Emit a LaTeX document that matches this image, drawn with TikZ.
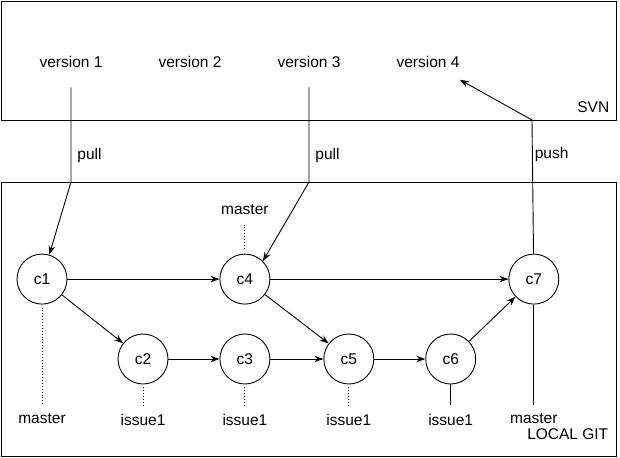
\documentclass[tikz,border=0pt]{standalone}
\usepackage{fontspec}
\setmainfont{Liberation Sans}
\usetikzlibrary{arrows,arrows.meta,positioning}

\begin{document}
\begin{tikzpicture}[
    x=1pt, y=-1pt, line width=0.9pt,
    every node/.style={font=\fontsize{15.5}{18}\selectfont},
    repo/.style={rectangle, draw, minimum width=615pt},
    version/.style={minimum height=50pt, inner xsep=0pt},
    commit/.style={circle, draw, minimum size=50pt},
    branch/.style={minimum height=28pt, inner sep=0pt},
    arrow/.style={->,>={Stealth[length=9pt, width=6.5pt]}},
    pointer/.style={dotted, shorten <=3pt},
    tag/.style={right, inner sep=2pt}
]
\useasboundingbox (0,0) rectangle (620,457);

% Repositories
\node[repo, minimum height=119pt] (svn) at (308.5,60.5) {};
\node[repo, minimum height=274pt, below=62pt of svn] (git) {};

% SVN versions
\node[version] (v1) at (71,62) {version 1};
\node[version] (v2) at (190,62) {version 2};
\node[version] (v3) at (309,62) {version 3};
\node[version] (v4) at (428,62) {version 4};
\node[anchor=east] (svnname) at (613,107) {SVN};

% Local commits
\node[commit] (c2) at (143,359) {c2};
\node[commit, right=51pt of c2] (c3) {c3};
\node[commit, right=53pt of c3] (c5) {c5};
\node[commit, right=51pt of c5] (c6) {c6};
\node[commit, above=29pt of c3] (c4) {c4};
\node[commit, left=152pt of c4] (c1) {c1};
\node[commit, right=238pt of c4] (c7) {c7};
\node[anchor=east] (gitname) at (612,434) {LOCAL GIT};

% Branch names
\node[branch, below=100pt of c1] (b1) {master};
\node[branch, below=21pt of c2] (b2) {issue1};
\node[branch, below=21pt of c3] (b3) {issue1};
\node[branch, above=30pt of c4] (b4) {master};
\node[branch, below=21pt of c5] (b5) {issue1};
\node[branch, below=21pt of c6] (b6) {issue1};
\node[branch, below=100pt of c7] (b7) {master};

% History
\draw[arrow] (c1) -- (c4);
\draw[arrow] (c1) -- (c2);
\draw[arrow] (c2) -- (c3);
\draw[arrow] (c3) -- (c5);
\draw[arrow] (c4) -- (c5);
\draw[arrow] (c5) -- (c6);
\draw[arrow] (c6) -- (c7);
\draw[arrow] (c4) -- (c7);

% Branch pointers
\draw[pointer] (c1) -- (b1);
\draw[pointer] (c2) -- (b2);
\draw[pointer] (c3) -- (b3);
\draw[pointer, shorten <=5pt] (c4) -- (b4);
\draw[pointer] (c5) -- (b5);
\draw (c6) -- (b6);
\draw (c7) -- (b7);

% Pull and push
\coordinate (p1) at (71,182);
\coordinate (p3) at (309,182);
\coordinate (p7) at (532,120);
\draw[arrow] (v1) -- node[tag, pos=0.72, xshift=4pt] {pull} (p1) -- (c1);
\draw[arrow] (v3) -- node[tag, pos=0.72, xshift=4pt] {pull} (p3) -- (c4.north east);
\draw[arrow] (c7) -- node[tag, pos=0.74] {push} (p7) -- (v4);

\end{tikzpicture}
\end{document}
